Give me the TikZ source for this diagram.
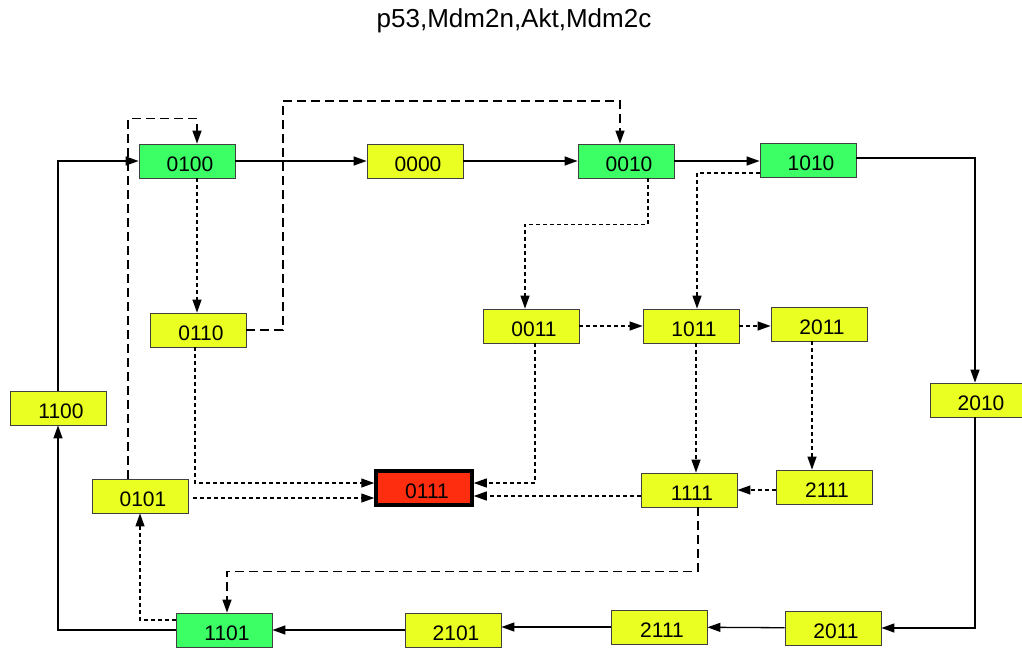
\documentclass[tikz,border=0pt]{standalone}
\usepackage{fontspec}
\setmainfont{Liberation Sans}
\usetikzlibrary{arrows.meta,positioning,calc}
\definecolor{stgreen}{RGB}{60,255,102}
\definecolor{styellow}{RGB}{234,255,34}
\definecolor{stred}{RGB}{255,45,16}

\begin{document}
\begin{tikzpicture}[x=1pt,y=-1pt,
    box/.style={rectangle,draw=black!75,line width=0.8pt,minimum width=96pt,minimum height=34pt,inner sep=0pt,
        text height=20pt,text depth=0pt,execute at begin node=\hspace*{6pt},font=\fontsize{21}{21}\selectfont},
    green/.style={box,fill=stgreen},
    yellow/.style={box,fill=styellow},
    sink/.style={box,fill=stred,draw=black,line width=3.5pt},
    arrow/.style={line width=1.3pt,-{Triangle[length=13pt,width=9pt]}},
    dasharrow/.style={arrow,dash pattern=on 9pt off 5pt},
    dotarrow/.style={arrow,line width=1.2pt,dash pattern=on 4pt off 3pt}]
    \useasboundingbox (0,0) rectangle (1022,649);
    \node[font=\fontsize{26}{26}\selectfont] (title) at (514,21) {p53,Mdm2n,Akt,Mdm2c};
    % states
    \foreach \n/\x/\y in {0100/187/161,0010/626/161,1010/808/160,1101/224/630} {
        \node[green] (n\n) at (\x,\y) {\n};
    }
    \foreach \n/\x/\y/\t in {0000/415/161/0000,0110/198/330/0110,0011/531/326/0011,
        1011/691/326/1011,2011a/819/324/2011,1100/58/408/1100,2010/978/400/2010,0101/140/496/0101,
        1111/689/490/1111,2111a/824/487/2111,2101/453/630/2101,2111b/659/627/2111,2011b/833/628/2011} {
        \node[yellow] (n\n) at (\x,\y) {\t};
    }
    \node[sink] (n0111) at (424,488) {0111};
    % solid transitions
    \draw[arrow] (n1100.north) |- (n0100.west);
    \draw[arrow] (n0100) -- (n0000);
    \draw[arrow] (n0000) -- (n0010);
    \draw[arrow] (n0010.east) -- (n0010.east -| n1010.west);
    \draw[arrow] ([yshift=2]n1010.east) -| ([xshift=-3]n2010.north);
    \draw[arrow] ([xshift=-3]n2010.south) |- (n2011b.east);
    \draw[arrow] (n2011b) -- (n2111b);
    \draw[arrow] (n2111b.west) -- (n2111b.west -| n2101.east);
    \draw[arrow] (n2101) -- (n1101);
    \draw[arrow] (n1101.west) -| (n1100.south);
    % long dashed transitions
    \draw[dasharrow] ([xshift=-12]n0101.north) |- ([xshift=10,yshift=25]n0100.north) -- ([xshift=10]n0100.north);
    \draw[dasharrow] (n0110.east) -| (283,101) -| ([xshift=-6]n0010.north);
    \draw[dasharrow] ([xshift=9]n1111.south) -- ++(0,64) -| ([xshift=3]n1101.north);
    % short dashed transitions
    \draw[dotarrow] ([xshift=10]n0100.south) -- ([xshift=10]n0100.south |- n0110.north);
    \draw[dotarrow] ([xshift=22]n0010.south) -- ++(0,46) -| ([xshift=-6]n0011.north);
    \draw[dotarrow] ([yshift=-13]n1010.west) -| ([xshift=6]n1011.north);
    \draw[dotarrow] (n0011.east) -- (n0011.east -| n1011.west);
    \draw[dotarrow] (n1011.east) -- (n1011.east -| n2011a.west);
    \draw[dotarrow] ([xshift=-7]n2011a.south) -- ([xshift=-7]n2011a.south |- n2111a.north);
    \draw[dotarrow] ([xshift=5]n1011.south) -- ([xshift=5]n1011.south |- n1111.north);
    \draw[dotarrow] (n2111a.west |- n1111) -- (n1111.east);
    \draw[dotarrow] ([yshift=-6]n1111.west) -- ([yshift=-6]n1111.west -| n0111.east);
    \draw[dotarrow] ([xshift=4]n0011.south) |- ([yshift=5]n0111.east);
    \draw[dotarrow] ([xshift=-3]n0110.south) |- ([yshift=5]n0111.west);
    \draw[dotarrow] ([xshift=5,yshift=-2]n0101.east) -- ([yshift=-2]n0101.east -| n0111.west);
    \draw[dotarrow] ([yshift=10]n1101.west) -| (n0101.south);
\end{tikzpicture}
\end{document}
